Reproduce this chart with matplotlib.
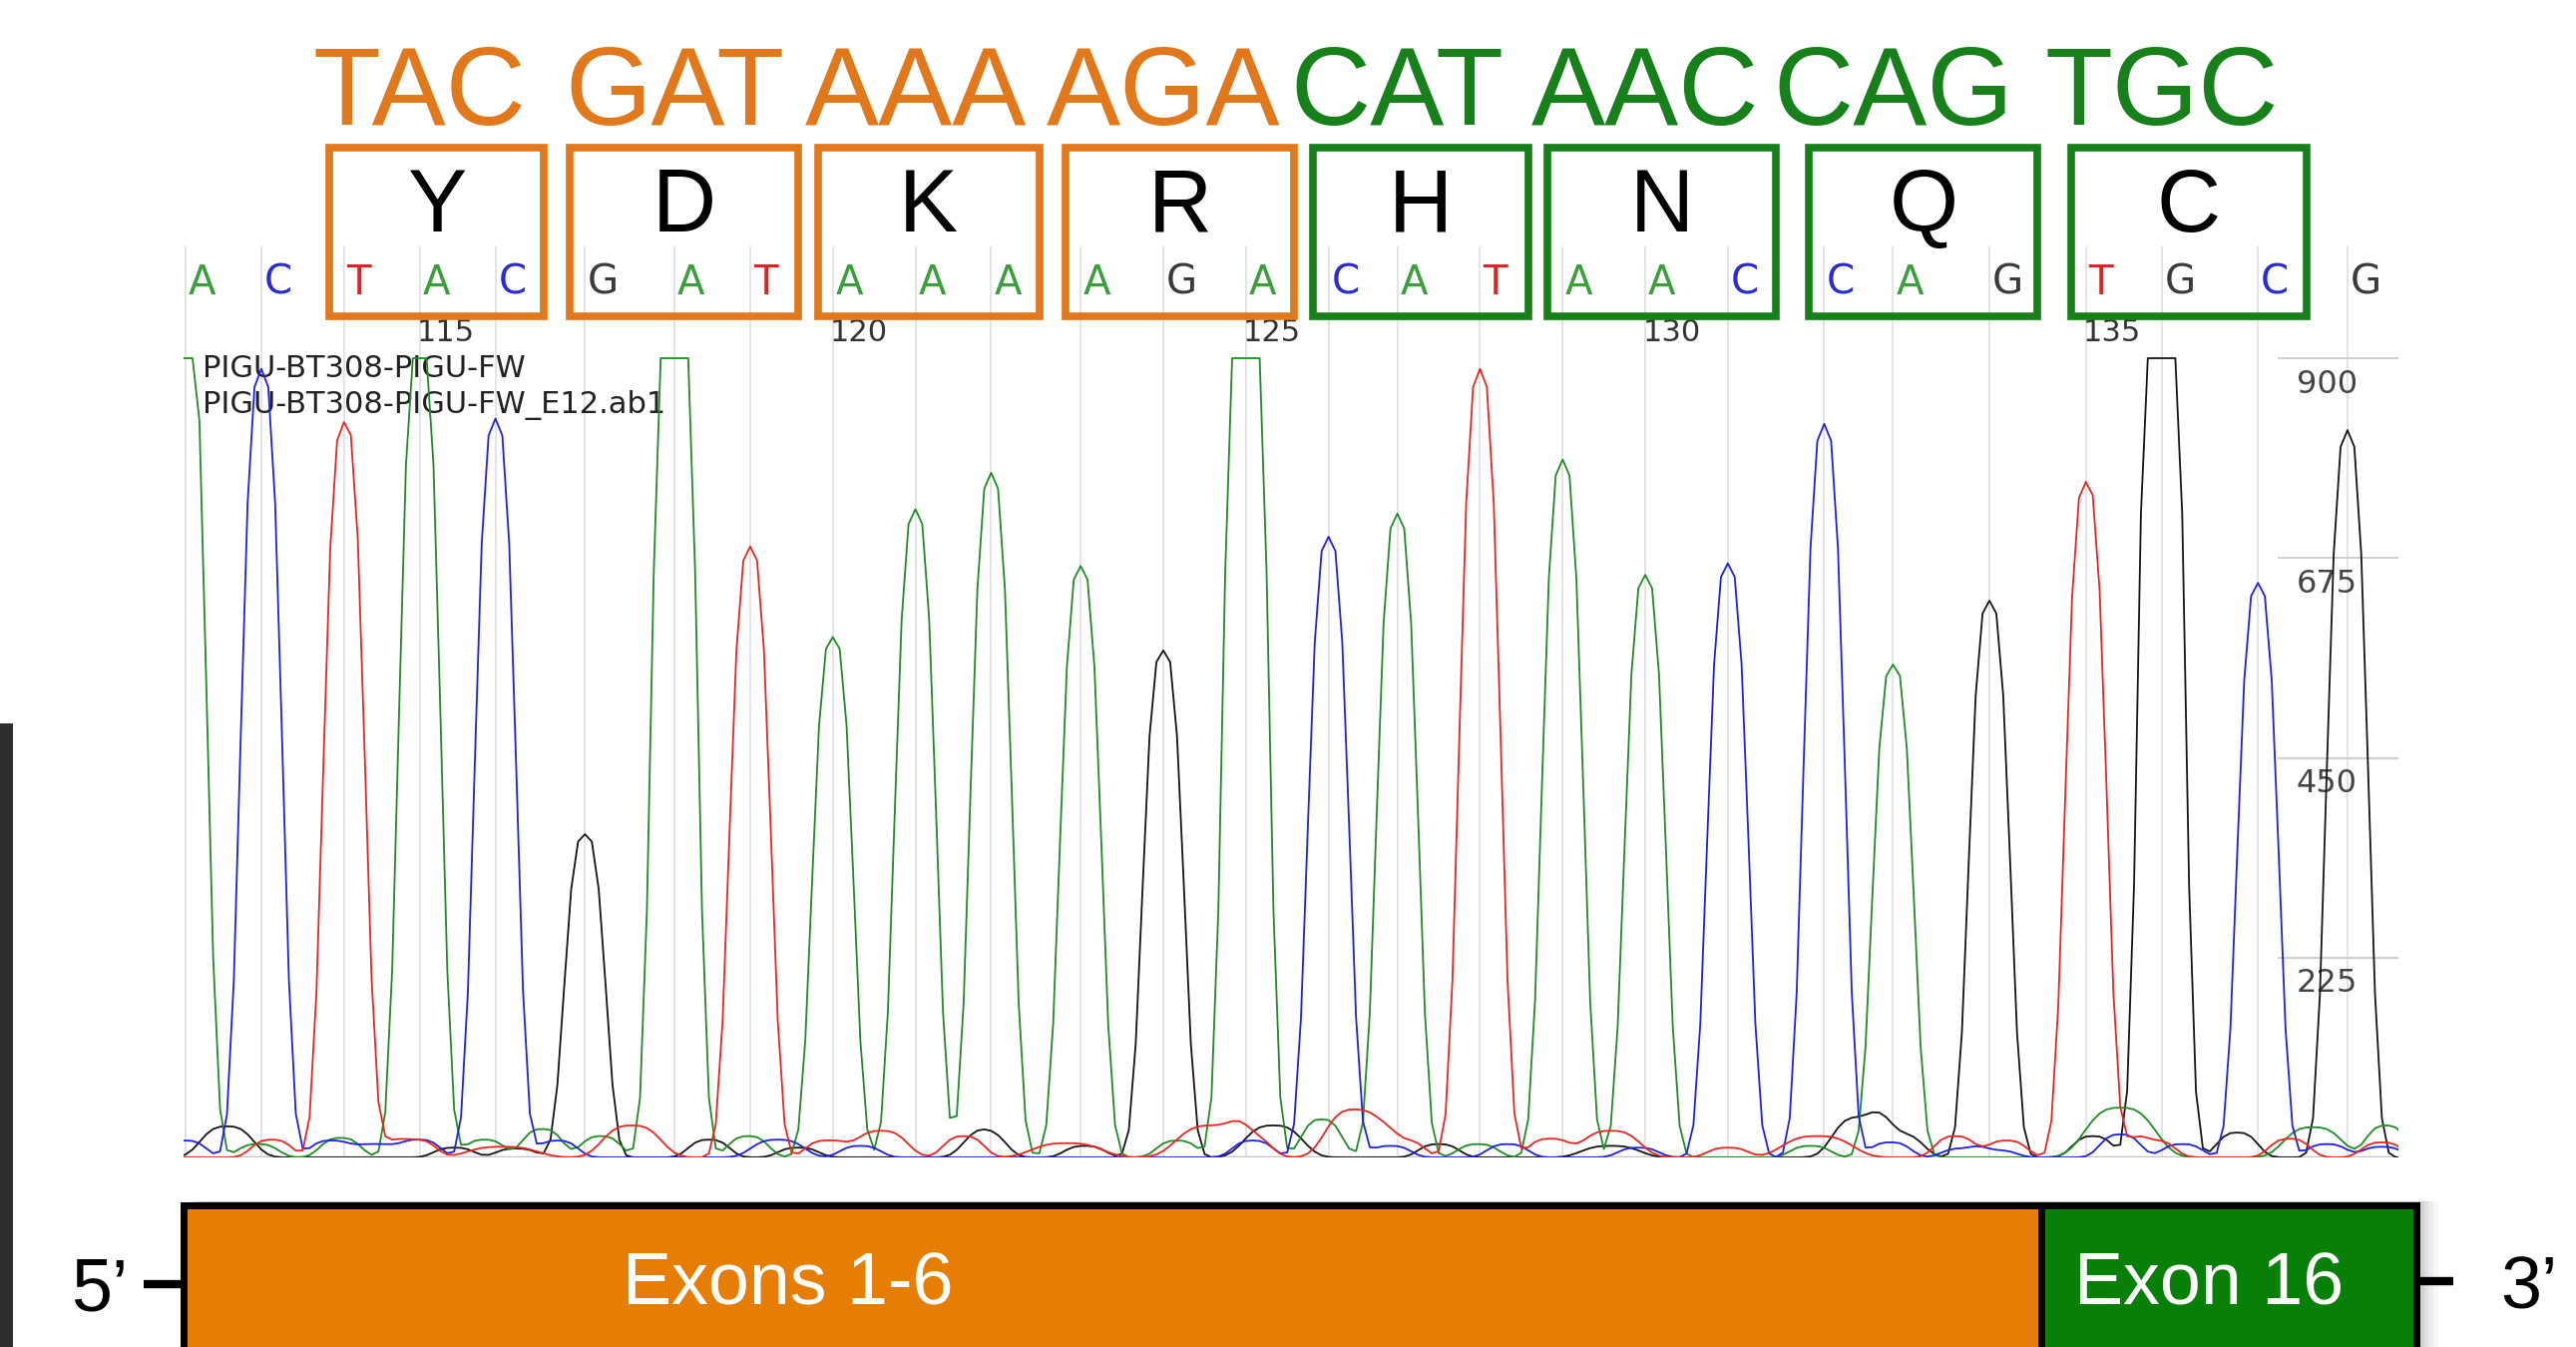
import numpy as np
import matplotlib.pyplot as plt
import matplotlib.transforms as mtransforms
from matplotlib.patches import Rectangle

W, H = 2582, 1350

# base calls with their scan positions and main peak heights
bases = list('ACTACGATAAAAGACATAACCAGTGCG')
base_pos = [27, 38, 50, 61, 72, 85, 98, 109, 121, 133, 144, 157, 169,
            181, 193, 203, 215, 227, 239, 251, 265, 275, 289, 303, 314, 328, 341]
peak_height = [1000, 888, 826, 940, 832, 364, 1240, 688, 586, 730, 771, 666, 571,
               1240, 699, 725, 888, 786, 656, 669, 826, 555, 627, 760, 1360, 647, 819]
first_base_number = 112
index_numbers = [115, 120, 125, 130, 135]
y_ticks = [225, 450, 675, 900]

# background peaks in each dye channel: (scan, height[, width])
minor_A = [(37.5, 15), (49.5, 22), (70.4, 20), (78.8, 32), (87.3, 24), (108.7, 24),
           (171, 19), (192, 43), (214.7, 15), (263, 13), (308, 56, 6), (336, 34, 5),
           (346.6, 36)]
minor_C = [(27, 19), (48, 19), (54.5, 15), (61, 20), (81, 19), (113, 20, 4.5),
           (125, 13), (182, 19), (202, 13), (219, 15), (238, 11), (274.6, 17),
           (285, 10), (290, 8), (308, 26), (317, 15), (338, 15), (346, 12)]
minor_G = [(33, 35, 4.5), (66, 11), (75, 10), (103, 20), (116, 11), (142, 12),
           (143.6, 20), (157.6, 13), (185, 36, 5), (209, 15), (234, 13, 5),
           (270, 45, 4.5), (276, 26, 4), (304, 24), (325, 28)]
minor_T = [(39.5, 20), (54.5, 17), (60.4, 20), (73, 12, 6), (91.8, 36, 5), (120, 19),
           (128, 30, 4.5), (140, 24), (155, 16, 6), (176, 36, 6), (182, 17),
           (196.8, 54, 5), (204, 19), (225, 21), (234, 30, 5), (251, 11),
           (264, 24, 6), (284, 24), (291.5, 19), (308, 15), (313, 19),
           (332.6, 21), (346, 17)]

codons = ['TAC', 'GAT', 'AAA', 'AGA', 'CAT', 'AAC', 'CAG', 'TGC']
amino_acids = ['Y', 'D', 'K', 'R', 'H', 'N', 'Q', 'C']
codon_exon = [0, 0, 0, 0, 1, 1, 1, 1]
codon_start = 2
exon_labels = ['Exons 1-6', 'Exon 16']
sample_names = ['PIGU-BT308-PIGU-FW', 'PIGU-BT308-PIGU-FW_E12.ab1']

trace_colors = {'A': '#1f8c25', 'C': '#2020e0', 'G': '#151515', 'T': '#e8261f'}
call_colors = {'A': '#3a9e3a', 'C': '#2a2ad6', 'G': '#3a3a3a', 'T': '#d92525'}
exon_text_colors = ['#e2781c', '#17801a']
exon_fill = ['#e67e05', '#088008']

scan = np.arange(18, 358)


def peak(p, h, w=3.5):
    return h * np.exp(-np.abs((scan - p) / w) ** 3)


traces = {}
for ch, minors in zip('ACGT', [minor_A, minor_C, minor_G, minor_T]):
    y = np.zeros(scan.size)
    for b, p, h in zip(bases, base_pos, peak_height):
        if b == ch:
            y += peak(p, h)
    for m in minors:
        y += peak(*m)
    traces[ch] = np.minimum(y, 900)

fig = plt.figure(figsize=(W / 100, H / 100), dpi=100)
fig.patch.set_facecolor('white')

# chromatogram panel
x0, x1, ybase, ytop = 184, 2404, 1160, 247
ax = fig.add_axes([x0 / W, 1 - ybase / H, (x1 - x0) / W, (ybase - ytop) / H])
ymax = 900 * (ybase - ytop) / (ybase - 359)
ax.set_xlim(26.7, 348.4)
ax.set_ylim(0, ymax)
ax.axis('off')

ax.vlines(base_pos, 0, ymax, color='#e2e2e2', lw=1.3, zorder=0)
ax.axhline(0, color='#c4c4c4', lw=2.5, zorder=1)

for ch in 'GACT':
    ax.plot(scan, traces[ch], color=trace_colors[ch], lw=1.3, zorder=3)

for b, p in zip(bases, base_pos):
    ax.text(p + 0.4, 972, b, color=call_colors[b], fontsize=29, ha='left',
            va='baseline', family='DejaVu Sans', zorder=4)

for n in index_numbers:
    ax.text(base_pos[n - first_base_number] - 0.4, 919, str(n), color='#333333',
            fontsize=22, ha='left', va='baseline', family='DejaVu Sans', zorder=4)

for name, yb in zip(sample_names, [879, 838]):
    ax.text(29.4, yb, name, color='#222222', fontsize=22, ha='left',
            va='baseline', family='DejaVu Sans', zorder=2)

for v in y_ticks:
    ax.hlines(v, 330.9, 348.4, color='#d0d0d0', lw=1.5, zorder=1)
    ax.text(333.6, v - 39, str(v), color='#444444', fontsize=23, ha='left',
            va='baseline', family='DejaVu Sans', zorder=2)

# overlay in pixel coordinates for codons, boxes and the exon schematic
ov = fig.add_axes([0, 0, 1, 1])
ov.set_xlim(0, W)
ov.set_ylim(H, 0)
ov.axis('off')
blend = mtransforms.blended_transform_factory(ax.transData, ov.transData)

for i, (cod, aa, ex) in enumerate(zip(codons, amino_acids, codon_exon)):
    first, mid, last = base_pos[codon_start + 3 * i: codon_start + 3 * i + 3]
    col = exon_text_colors[ex]
    left, right = first - 2.2, last + 7.0
    ov.text(mid, 125, cod, transform=blend, ha='center', va='baseline',
            fontsize=80, family='Liberation Sans', color=col)
    ov.add_patch(Rectangle((left, 148), right - left, 169, transform=blend,
                           fill=False, lw=5.5, ec=col))
    ov.text((left + right) / 2, 232, aa, transform=blend, ha='center',
            va='baseline', fontsize=64, family='Liberation Sans', color='black')

# exon bar with soft drop shadow
bar_top = 1208
exon_edges = [184, 2046, 2422]
exon_label_x = [790, 2214]
for d, a in zip([22, 17, 12, 8, 4], [0.03, 0.04, 0.05, 0.06, 0.07]):
    ov.add_patch(Rectangle((exon_edges[0] + d, bar_top - 4), exon_edges[-1] - exon_edges[0],
                           200, fc='black', ec='none', alpha=a, zorder=1))
for k, label in enumerate(exon_labels):
    l, r = exon_edges[k], exon_edges[k + 1]
    ov.add_patch(Rectangle((l, bar_top), r - l, 200, fc=exon_fill[k], ec='black',
                           lw=5, zorder=2))
    ov.text(exon_label_x[k], 1307, label, ha='center', va='baseline', fontsize=53,
            family='Liberation Sans', color='white', zorder=3)

ov.plot([144, exon_edges[0]], [1287, 1287], color='black', lw=6, zorder=3,
        solid_capstyle='butt')
ov.plot([exon_edges[-1], 2459], [1284, 1284], color='black', lw=6, zorder=3,
        solid_capstyle='butt')
ov.text(100, 1313, '5\u2019', ha='center', va='baseline', fontsize=53,
        family='Liberation Sans', color='black')
ov.text(2506, 1311, '3\u2019', ha='left', va='baseline', fontsize=53,
        family='Liberation Sans', color='black')

# edge of the neighbouring panel
ov.add_patch(Rectangle((0, 725), 13, 640, fc='#2e2e2e', ec='none'))

fig.savefig('out.png', dpi=100)
